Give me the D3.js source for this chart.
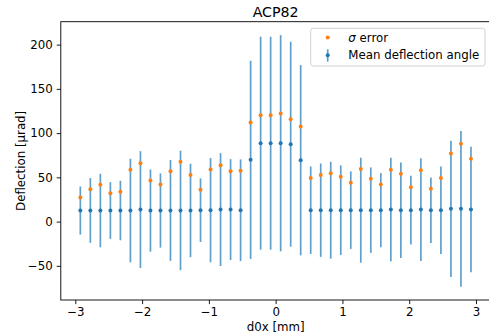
<!DOCTYPE html>
<html lang="en">
<head>
  <meta charset="UTF-8">
  <title>ACP82</title>
  <style type="text/css">
    body {
      margin: 0;
      background: #fff;
    }
    svg text {
      font-family: "DejaVu Sans", sans-serif;
      fill: #000;
    }
  </style>
</head>
<body>
  <svg id="chart" width="489" height="336"></svg>

<script src="https://d3js.org/d3.v7.min.js"></script>
<script>
  // data
  const d0x = [-2.925, -2.775, -2.625, -2.475, -2.325, -2.175, -2.025, -1.875, -1.725, -1.575,
               -1.425, -1.275, -1.125, -0.975, -0.825, -0.675, -0.525, -0.375, -0.225, -0.075,
               0.075, 0.225, 0.375, 0.525, 0.675, 0.825, 0.975, 1.125, 1.275, 1.425,
               1.575, 1.725, 1.875, 2.025, 2.175, 2.325, 2.475, 2.625, 2.775, 2.925]
  const meanAngle = [12.5, 12.6, 12.5, 12.5, 12.5, 12.5, 13.6, 12.5, 12.5, 12.6,
                     12.6, 12.6, 12.9, 12.9, 13.6, 13.6, 12.9, 69.8, 88.6, 88.6,
                     88.6, 87.5, 69.4, 12.9, 12.9, 12.9, 12.9, 12.9, 12.9, 12.9,
                     12.9, 13.6, 12.9, 12.9, 13.6, 12.9, 12.9, 14.4, 14.4, 13.6]
  const sigmaErr = [27.2, 36.6, 41.5, 32.1, 33.6, 58.5, 66.0, 46.4, 41.9, 57.0,
                    67.5, 52.8, 35.9, 58.9, 63.8, 57.0, 57.4, 112.0, 120.3, 120.3,
                    122.2, 115.8, 107.5, 49.4, 52.8, 54.7, 50.6, 43.8, 59.3, 48.3,
                    41.9, 58.5, 54.0, 38.9, 58.1, 37.0, 49.4, 77.0, 87.9, 70.9]
  const xTicks = [-3, -2, -1, 0, 1, 2, 3]
  const yTicks = [-50, 0, 50, 100, 150, 200]

  const blue = '#1f77b4'
  const orange = '#ff7f0e'
  const fs = 11.8

  const svg = d3.select('#chart')
  const pl = 60.8, pr = 490.5, pt = 21.7, pb = 300

  const x = d3.scaleLinear().domain([-3.2175, 3.2175]).range([pl, pr])
  const y = d3.scaleLinear().domain([-88.6, 225.9]).range([pb, pt])

  const fmt = d => d < 0 ? '\u2212' + Math.abs(d) : String(d)

  // axes
  const xAxis = svg.append('g')
    .attr('transform', `translate(0,${pb})`)
    .call(d3.axisBottom(x).tickValues(xTicks).tickFormat(fmt).tickSizeOuter(0).tickSize(4.1).tickPadding(4))
  const yAxis = svg.append('g')
    .attr('transform', `translate(${pl},0)`)
    .call(d3.axisLeft(y).tickValues(yTicks).tickFormat(fmt).tickSizeOuter(0).tickSize(4.1).tickPadding(4))
  xAxis.select('.domain').remove()
  yAxis.select('.domain').remove()
  svg.selectAll('.tick text').attr('font-size', fs).attr('font-family', '"DejaVu Sans", sans-serif')
  svg.selectAll('.tick line').attr('stroke', '#000').attr('stroke-width', 0.9)

  // spines
  svg.append('rect')
    .attr('x', pl).attr('y', pt)
    .attr('width', pr - pl).attr('height', pb - pt)
    .attr('fill', 'none').attr('stroke', '#000').attr('stroke-width', 0.9)

  const pts = d0x.map((d, i) => ({ x: d, m: meanAngle[i], s: sigmaErr[i] }))

  // error bars
  svg.append('g').selectAll('line')
    .data(pts).join('line')
    .attr('x1', d => x(d.x)).attr('x2', d => x(d.x))
    .attr('y1', d => y(d.m - d.s)).attr('y2', d => y(d.m + d.s))
    .attr('stroke', blue).attr('stroke-width', 1.7).attr('opacity', 0.7)
  svg.append('g').selectAll('circle')
    .data(pts).join('circle')
    .attr('cx', d => x(d.x)).attr('cy', d => y(d.m))
    .attr('r', 2).attr('fill', blue)

  // sigma points
  svg.append('g').selectAll('circle')
    .data(pts).join('circle')
    .attr('cx', d => x(d.x)).attr('cy', d => y(d.s))
    .attr('r', 2).attr('fill', orange)

  // title and labels
  svg.append('text')
    .attr('x', (pl + pr) / 2).attr('y', 17)
    .attr('text-anchor', 'middle').attr('font-size', 14.2)
    .text('ACP82')
  svg.append('text')
    .attr('x', (pl + pr) / 2).attr('y', 331)
    .attr('text-anchor', 'middle').attr('font-size', fs)
    .text('d0x [mm]')
  svg.append('text')
    .attr('transform', `translate(25,${(pt + pb) / 2}) rotate(-90)`)
    .attr('text-anchor', 'middle').attr('font-size', fs)
    .text('Deflection [µrad]')

  // legend
  const lg = svg.append('g')
  lg.append('rect')
    .attr('x', 310.7).attr('y', 28.3)
    .attr('width', 174.3).attr('height', 37.7)
    .attr('rx', 2.5)
    .attr('fill', '#fff').attr('fill-opacity', 0.8)
    .attr('stroke', '#ccc').attr('stroke-width', 0.9)
  lg.append('circle')
    .attr('cx', 327.7).attr('cy', 37.5).attr('r', 2).attr('fill', orange)
  lg.append('line')
    .attr('x1', 327.7).attr('x2', 327.7).attr('y1', 49.3).attr('y2', 61.7)
    .attr('stroke', blue).attr('stroke-width', 1.7).attr('opacity', 0.7)
  lg.append('circle')
    .attr('cx', 327.7).attr('cy', 55.3).attr('r', 2).attr('fill', blue)
  const t1 = lg.append('text').attr('x', 348.3).attr('y', 41.5).attr('font-size', fs)
  t1.append('tspan').attr('font-style', 'italic').text('σ')
  t1.append('tspan').text(' error')
  lg.append('text').attr('x', 348.3).attr('y', 59.4).attr('font-size', fs)
    .text('Mean deflection angle')
</script>
</body>
</html>
